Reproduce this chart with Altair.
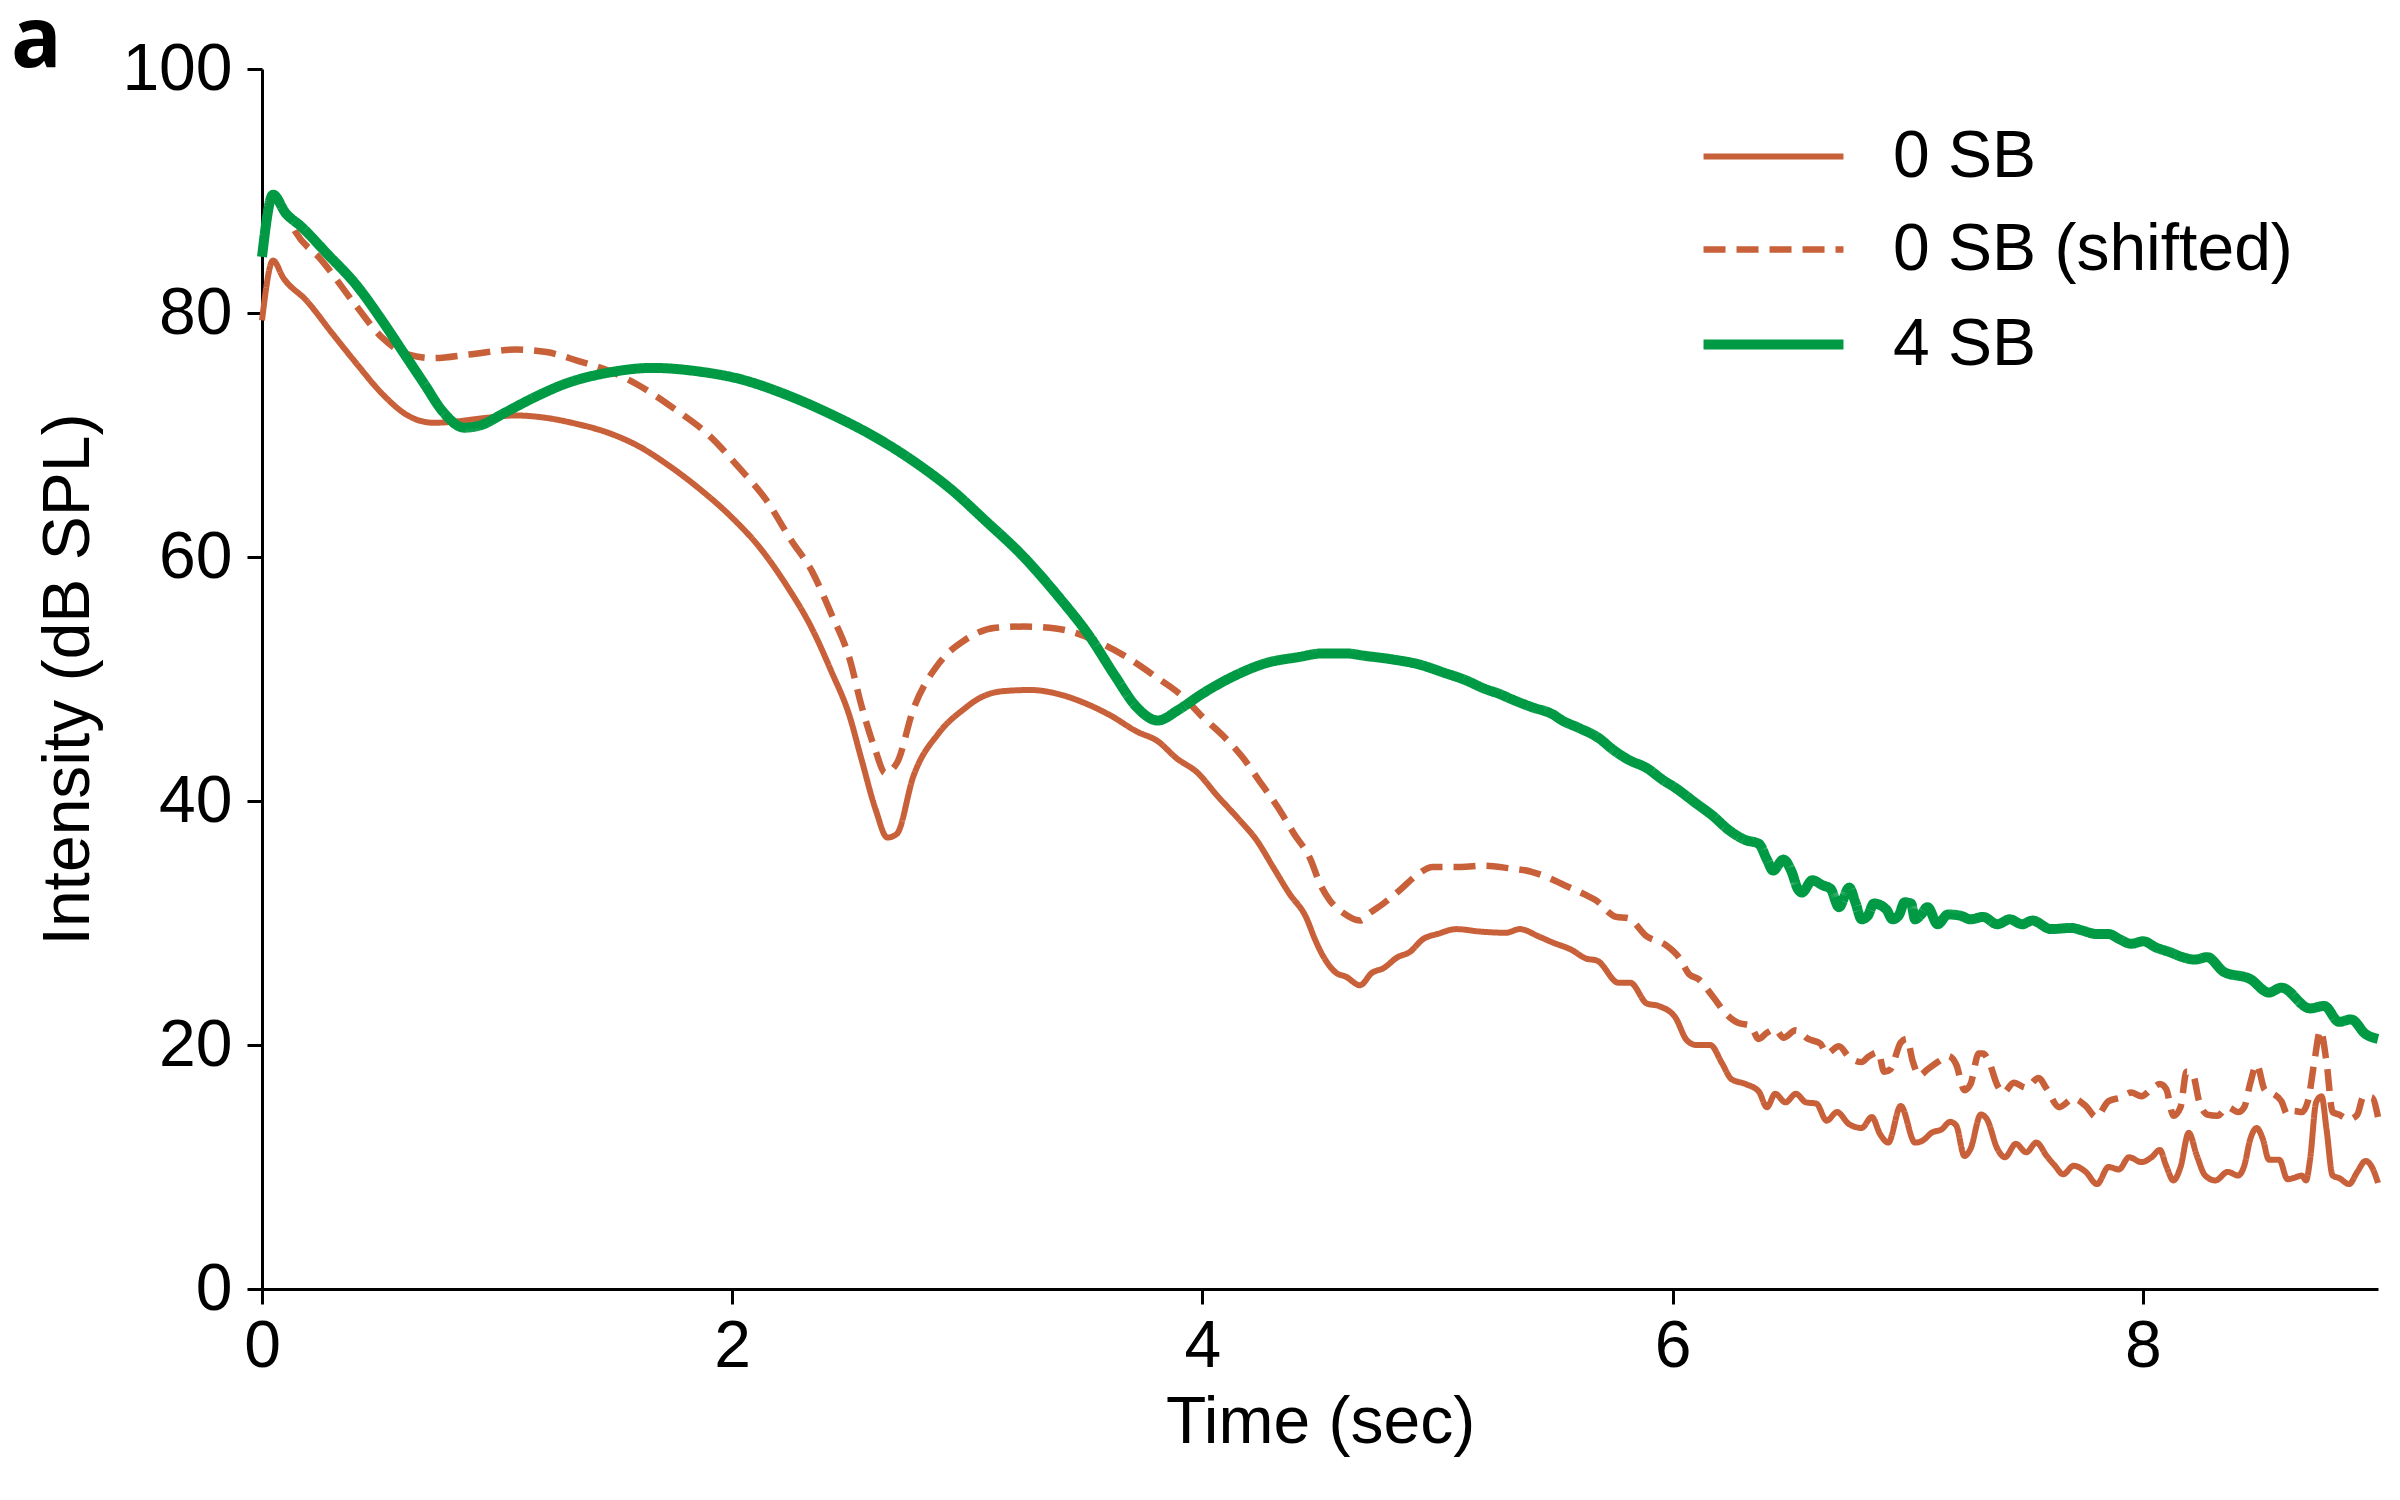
import altair as alt
import pandas as pd

# ---- data ----
SERIES = ["0 SB", "0 SB (shifted)", "4 SB"]
COLORS = ["#C8603A", "#C8603A", "#009A44"]
DASHES = [[1, 0], [22, 11], [1, 0]]
WIDTHS = [6, 6.5, 10]
X_TICKS = [0, 2, 4, 6, 8]
Y_TICKS = [0, 20, 40, 60, 80, 100]

T_SOLID = [0.0, 0.047, 0.09, 0.19, 0.30, 0.40, 0.51, 0.62, 0.73, 0.82, 0.95, 1.08, 1.21, 1.34,
           1.47, 1.60, 1.73, 1.86, 1.99, 2.12, 2.23, 2.34, 2.42, 2.50, 2.55, 2.61, 2.66, 2.70,
           2.77, 2.88, 2.99, 3.04, 3.15, 3.27, 3.38, 3.49, 3.61, 3.72, 3.81, 3.89, 3.98, 4.06,
           4.15, 4.23, 4.30, 4.37, 4.44, 4.48, 4.51, 4.57, 4.61, 4.67, 4.72, 4.77, 4.83, 4.88,
           4.94, 5.00, 5.08, 5.18, 5.29, 5.35, 5.43, 5.49, 5.57, 5.63, 5.68, 5.77, 5.82, 5.89,
           5.94, 6.01, 6.06, 6.10, 6.16, 6.21, 6.25, 6.31,
           6.366, 6.401, 6.436, 6.480, 6.524, 6.567, 6.611, 6.655, 6.699, 6.751, 6.804, 6.847,
           6.882, 6.917, 6.970, 7.031, 7.066, 7.101, 7.145, 7.180, 7.206, 7.241, 7.267, 7.311,
           7.337, 7.381, 7.413, 7.460, 7.504, 7.547, 7.591, 7.626, 7.661, 7.705, 7.757, 7.805,
           7.854, 7.898, 7.941, 7.994, 8.037, 8.072, 8.099, 8.130, 8.160, 8.195, 8.230, 8.265,
           8.309, 8.361, 8.405, 8.431, 8.457, 8.484, 8.510, 8.536, 8.580, 8.615, 8.641, 8.676,
           8.694, 8.711, 8.737, 8.760, 8.781, 8.807, 8.834, 8.877, 8.912, 8.947, 8.974, 9.000]
V_SOLID = [79.4, 84.3, 82.9, 81.0, 78.3, 75.9, 73.4, 71.6, 71.0, 71.1, 71.4, 71.6, 71.4, 70.9,
           70.2, 69.1, 67.5, 65.6, 63.4, 60.7, 57.7, 54.1, 50.7, 46.9, 43.4, 39.3, 37.0, 37.3,
           42.0, 45.6, 47.6, 48.3, 49.0, 49.1, 48.8, 48.1, 47.0, 45.7, 44.9, 43.5, 42.3, 40.5,
           38.6, 36.8, 34.6, 32.4, 30.5, 28.6, 27.4, 25.9, 25.6, 24.9, 25.9, 26.3, 27.2, 27.6,
           28.7, 29.1, 29.5, 29.3, 29.2, 29.5, 28.9, 28.4, 27.8, 27.1, 26.9, 25.1, 25.1, 23.4,
           23.2, 22.3, 20.4, 20.0, 20.0, 18.5, 17.2, 16.8,
           16.2, 14.9, 16.0, 15.3, 16.0, 15.3, 15.2, 13.8, 14.5, 13.5, 13.2, 14.1,
           12.7, 12.0, 15.0, 12.0, 12.2, 12.8, 13.1, 13.7, 13.4, 10.9, 11.5, 14.3,
           13.9, 11.5, 10.8, 11.9, 11.2, 12.0, 10.9, 10.1, 9.4, 10.1, 9.6, 8.6,
           10.0, 9.8, 10.8, 10.4, 10.8, 11.4, 10.1, 8.9, 10.0, 12.8, 10.9, 9.3,
           8.9, 9.6, 9.3, 10.1, 12.3, 13.2, 12.3, 10.6, 10.6, 9.0, 9.1, 9.3,
           8.9, 10.6, 15.3, 15.8, 13.1, 9.3, 9.1, 8.6, 9.6, 10.5, 10.0, 8.7]

T_SHIFT = [0.0, 0.047, 0.10, 0.144, 0.25, 0.40, 0.51, 0.62, 0.73, 0.88, 1.08, 1.21, 1.34, 1.47,
           1.60, 1.75, 1.90, 2.03, 2.14, 2.25, 2.34, 2.42, 2.50, 2.55, 2.61, 2.65, 2.70, 2.77,
           2.88, 2.99, 3.12, 3.24, 3.35, 3.44, 3.55, 3.66, 3.80, 3.92, 4.00, 4.09, 4.17, 4.24,
           4.32, 4.39, 4.46, 4.50, 4.54, 4.60, 4.67, 4.71, 4.77, 4.84, 4.91, 4.98, 5.10, 5.20,
           5.30, 5.40, 5.46, 5.54, 5.63, 5.67, 5.76, 5.81, 5.89, 5.97, 6.03, 6.07, 6.11, 6.17,
           6.23, 6.28, 6.33,
           6.366, 6.401, 6.436, 6.471, 6.524, 6.576, 6.629, 6.655, 6.707, 6.751, 6.804, 6.830,
           6.874, 6.900, 6.926, 6.970, 6.996, 7.022, 7.049, 7.084, 7.136, 7.171, 7.206, 7.241,
           7.267, 7.302, 7.320, 7.346, 7.381, 7.407, 7.451, 7.504, 7.556, 7.591, 7.644, 7.705,
           7.757, 7.801, 7.854, 7.906, 7.950, 7.994, 8.037, 8.072, 8.099, 8.130, 8.160, 8.186,
           8.212, 8.239, 8.274, 8.317, 8.361, 8.405, 8.431, 8.457, 8.484, 8.519, 8.554, 8.589,
           8.615, 8.641, 8.676, 8.702, 8.729, 8.755, 8.781, 8.807, 8.834, 8.877, 8.912, 8.939,
           8.974, 9.000]
V_SHIFT = [85.0, 89.6, 88.3, 86.6, 84.4, 80.6, 78.0, 76.6, 76.3, 76.6, 77.0, 76.8, 76.1, 75.3,
           74.1, 72.2, 70.0, 67.3, 64.8, 61.4, 58.8, 55.4, 51.6, 47.8, 44.1, 42.3, 43.1, 47.5,
           51.3, 53.2, 54.2, 54.3, 54.2, 53.9, 53.1, 52.0, 50.2, 48.5, 46.9, 45.3, 43.6, 41.7,
           39.5, 37.3, 35.2, 33.2, 31.9, 30.8, 30.2, 30.8, 31.6, 32.7, 33.9, 34.6, 34.6, 34.7,
           34.5, 34.2, 33.8, 33.1, 32.3, 31.9, 30.5, 30.4, 28.9, 28.2, 27.1, 25.8, 25.4, 24.0,
           22.5, 21.8, 21.6,
           20.5, 21.0, 21.3, 20.6, 21.2, 20.5, 20.1, 19.3, 19.9, 19.0, 18.6, 19.0,
           19.4, 17.8, 18.0, 20.2, 20.5, 18.6, 17.5, 18.0, 18.7, 19.1, 18.4, 16.3,
           16.8, 19.3, 19.3, 18.6, 16.7, 16.1, 16.9, 16.5, 17.3, 16.4, 14.9, 15.6,
           15.0, 14.1, 15.4, 15.7, 16.1, 15.8, 16.4, 16.8, 16.4, 14.2, 14.9, 17.8,
           17.6, 15.4, 14.3, 14.2, 14.9, 14.5, 14.9, 16.9, 18.4, 16.3, 16.0, 15.4,
           14.3, 14.6, 14.5, 15.4, 18.6, 21.2, 18.6, 14.5, 14.3, 13.9, 14.3, 15.8,
           15.7, 14.1]

T_4SB = [0.0, 0.047, 0.10, 0.166, 0.275, 0.405, 0.51, 0.60, 0.69, 0.77, 0.86, 0.93, 1.03, 1.16,
         1.29, 1.47, 1.66, 1.86, 2.03, 2.23, 2.42, 2.62, 2.79, 2.94, 3.07, 3.24, 3.39, 3.52,
         3.63, 3.72, 3.81, 3.90, 4.00, 4.13, 4.27, 4.41, 4.51, 4.61, 4.69, 4.81, 4.92, 5.03,
         5.12, 5.20, 5.26, 5.32, 5.40, 5.49, 5.53, 5.60, 5.69, 5.74, 5.81, 5.89, 5.96, 6.01,
         6.10, 6.17, 6.24, 6.31,
         6.366, 6.401, 6.427, 6.471, 6.506, 6.532, 6.550, 6.594, 6.637, 6.672, 6.707, 6.751,
         6.777, 6.804, 6.830, 6.856, 6.909, 6.935, 6.961, 6.987, 7.014, 7.031, 7.057, 7.084,
         7.127, 7.171, 7.224, 7.267, 7.320, 7.381, 7.434, 7.486, 7.530, 7.609, 7.696, 7.740,
         7.801, 7.854, 7.898, 7.950, 8.002, 8.055, 8.116, 8.169, 8.221, 8.274, 8.344, 8.457,
         8.536, 8.589, 8.711, 8.772, 8.834, 8.886, 8.947, 9.000]
V_4SB = [84.6, 89.7, 88.2, 87.1, 84.9, 82.2, 79.4, 76.8, 74.2, 71.9, 70.6, 70.8, 71.8, 73.1,
         74.2, 75.1, 75.5, 75.2, 74.6, 73.3, 71.7, 69.7, 67.6, 65.4, 63.1, 60.0, 56.7, 53.5,
         50.2, 47.7, 46.6, 47.5, 48.8, 50.2, 51.3, 51.8, 52.1, 52.1, 51.9, 51.6, 51.2, 50.5,
         49.9, 49.2, 48.8, 48.3, 47.7, 47.1, 46.6, 46.0, 45.1, 44.3, 43.4, 42.7, 41.7, 41.1,
         39.8, 38.8, 37.6, 36.8,
         36.5, 35.2, 34.3, 35.2, 34.2, 32.8, 32.5, 33.5, 33.1, 32.8, 31.3, 32.9,
         31.7, 30.3, 30.6, 31.6, 31.1, 30.3, 30.6, 31.7, 31.6, 30.3, 30.7, 31.3,
         29.9, 30.7, 30.6, 30.3, 30.5, 29.9, 30.3, 29.9, 30.2, 29.5, 29.6, 29.4,
         29.1, 29.1, 28.7, 28.3, 28.5, 28.0, 27.6, 27.2, 27.0, 27.2, 26.0, 25.4,
         24.3, 24.7, 23.0, 23.2, 21.9, 22.1, 20.9, 20.5]

frames = []
for name, ts, vs in zip(SERIES, [T_SOLID, T_SHIFT, T_4SB], [V_SOLID, V_SHIFT, V_4SB]):
    frames.append(pd.DataFrame({"t": ts, "v": vs, "series": name, "idx": list(range(len(ts)))}))
df = pd.concat(frames, ignore_index=True)

FONT = "Liberation Sans"

legend = alt.Legend(
    title=None, orient="none", legendX=1450, legendY=28, padding=0,
    symbolType="M-1.244,0H1.244", symbolSize=12656, labelFontSize=66, labelFont=FONT,
    labelColor="black", labelOffset=58, rowPadding=-1, labelLimit=0,
)

base = alt.Chart(df).encode(
    x=alt.X("t:Q", scale=alt.Scale(domain=[0, 9], nice=False, zero=False),
            axis=alt.Axis(values=X_TICKS, title="Time (sec)", labelPadding=10,
                          titlePadding=11, labelFlush=False)),
    y=alt.Y("v:Q", scale=alt.Scale(domain=[0, 100], nice=False),
            axis=alt.Axis(values=Y_TICKS, title="Intensity (dB SPL)", labelPadding=15,
                          titlePadding=19)),
    color=alt.Color("series:N", scale=alt.Scale(domain=SERIES, range=COLORS), legend=legend),
    strokeDash=alt.StrokeDash("series:N", scale=alt.Scale(domain=SERIES, range=DASHES), legend=legend),
    strokeWidth=alt.StrokeWidth("series:N", scale=alt.Scale(type="ordinal", domain=SERIES, range=WIDTHS),
                                legend=legend),
    order=alt.Order("idx:Q"),
)

layers = [
    base.mark_line(strokeJoin="round", interpolate="monotone", clip=False)
    .transform_filter(alt.datum.series == s)
    for s in SERIES
]

chart = alt.layer(*layers).properties(
    width=2116, height=1220,
    autosize=alt.AutoSizeParams(type="none"),
    padding={"left": 254, "top": 61, "right": 14, "bottom": 203},
    title=alt.TitleParams("a", anchor="start", frame="group", fontSize=84, fontWeight="bold",
                          font="Open Sans", dx=-251, dy=115, offset=0, baseline="alphabetic",
                          color="black"),
).configure_view(stroke=None).configure_axis(
    grid=False, domainColor="black", domainWidth=3, tickColor="black", tickWidth=3,
    tickSize=15, labelFontSize=66, titleFontSize=66, labelFont=FONT, titleFont=FONT,
    labelColor="black", titleColor="black", titleFontWeight="normal",
)

chart.save("out.html", embed_options={"renderer": "svg", "actions": False})
